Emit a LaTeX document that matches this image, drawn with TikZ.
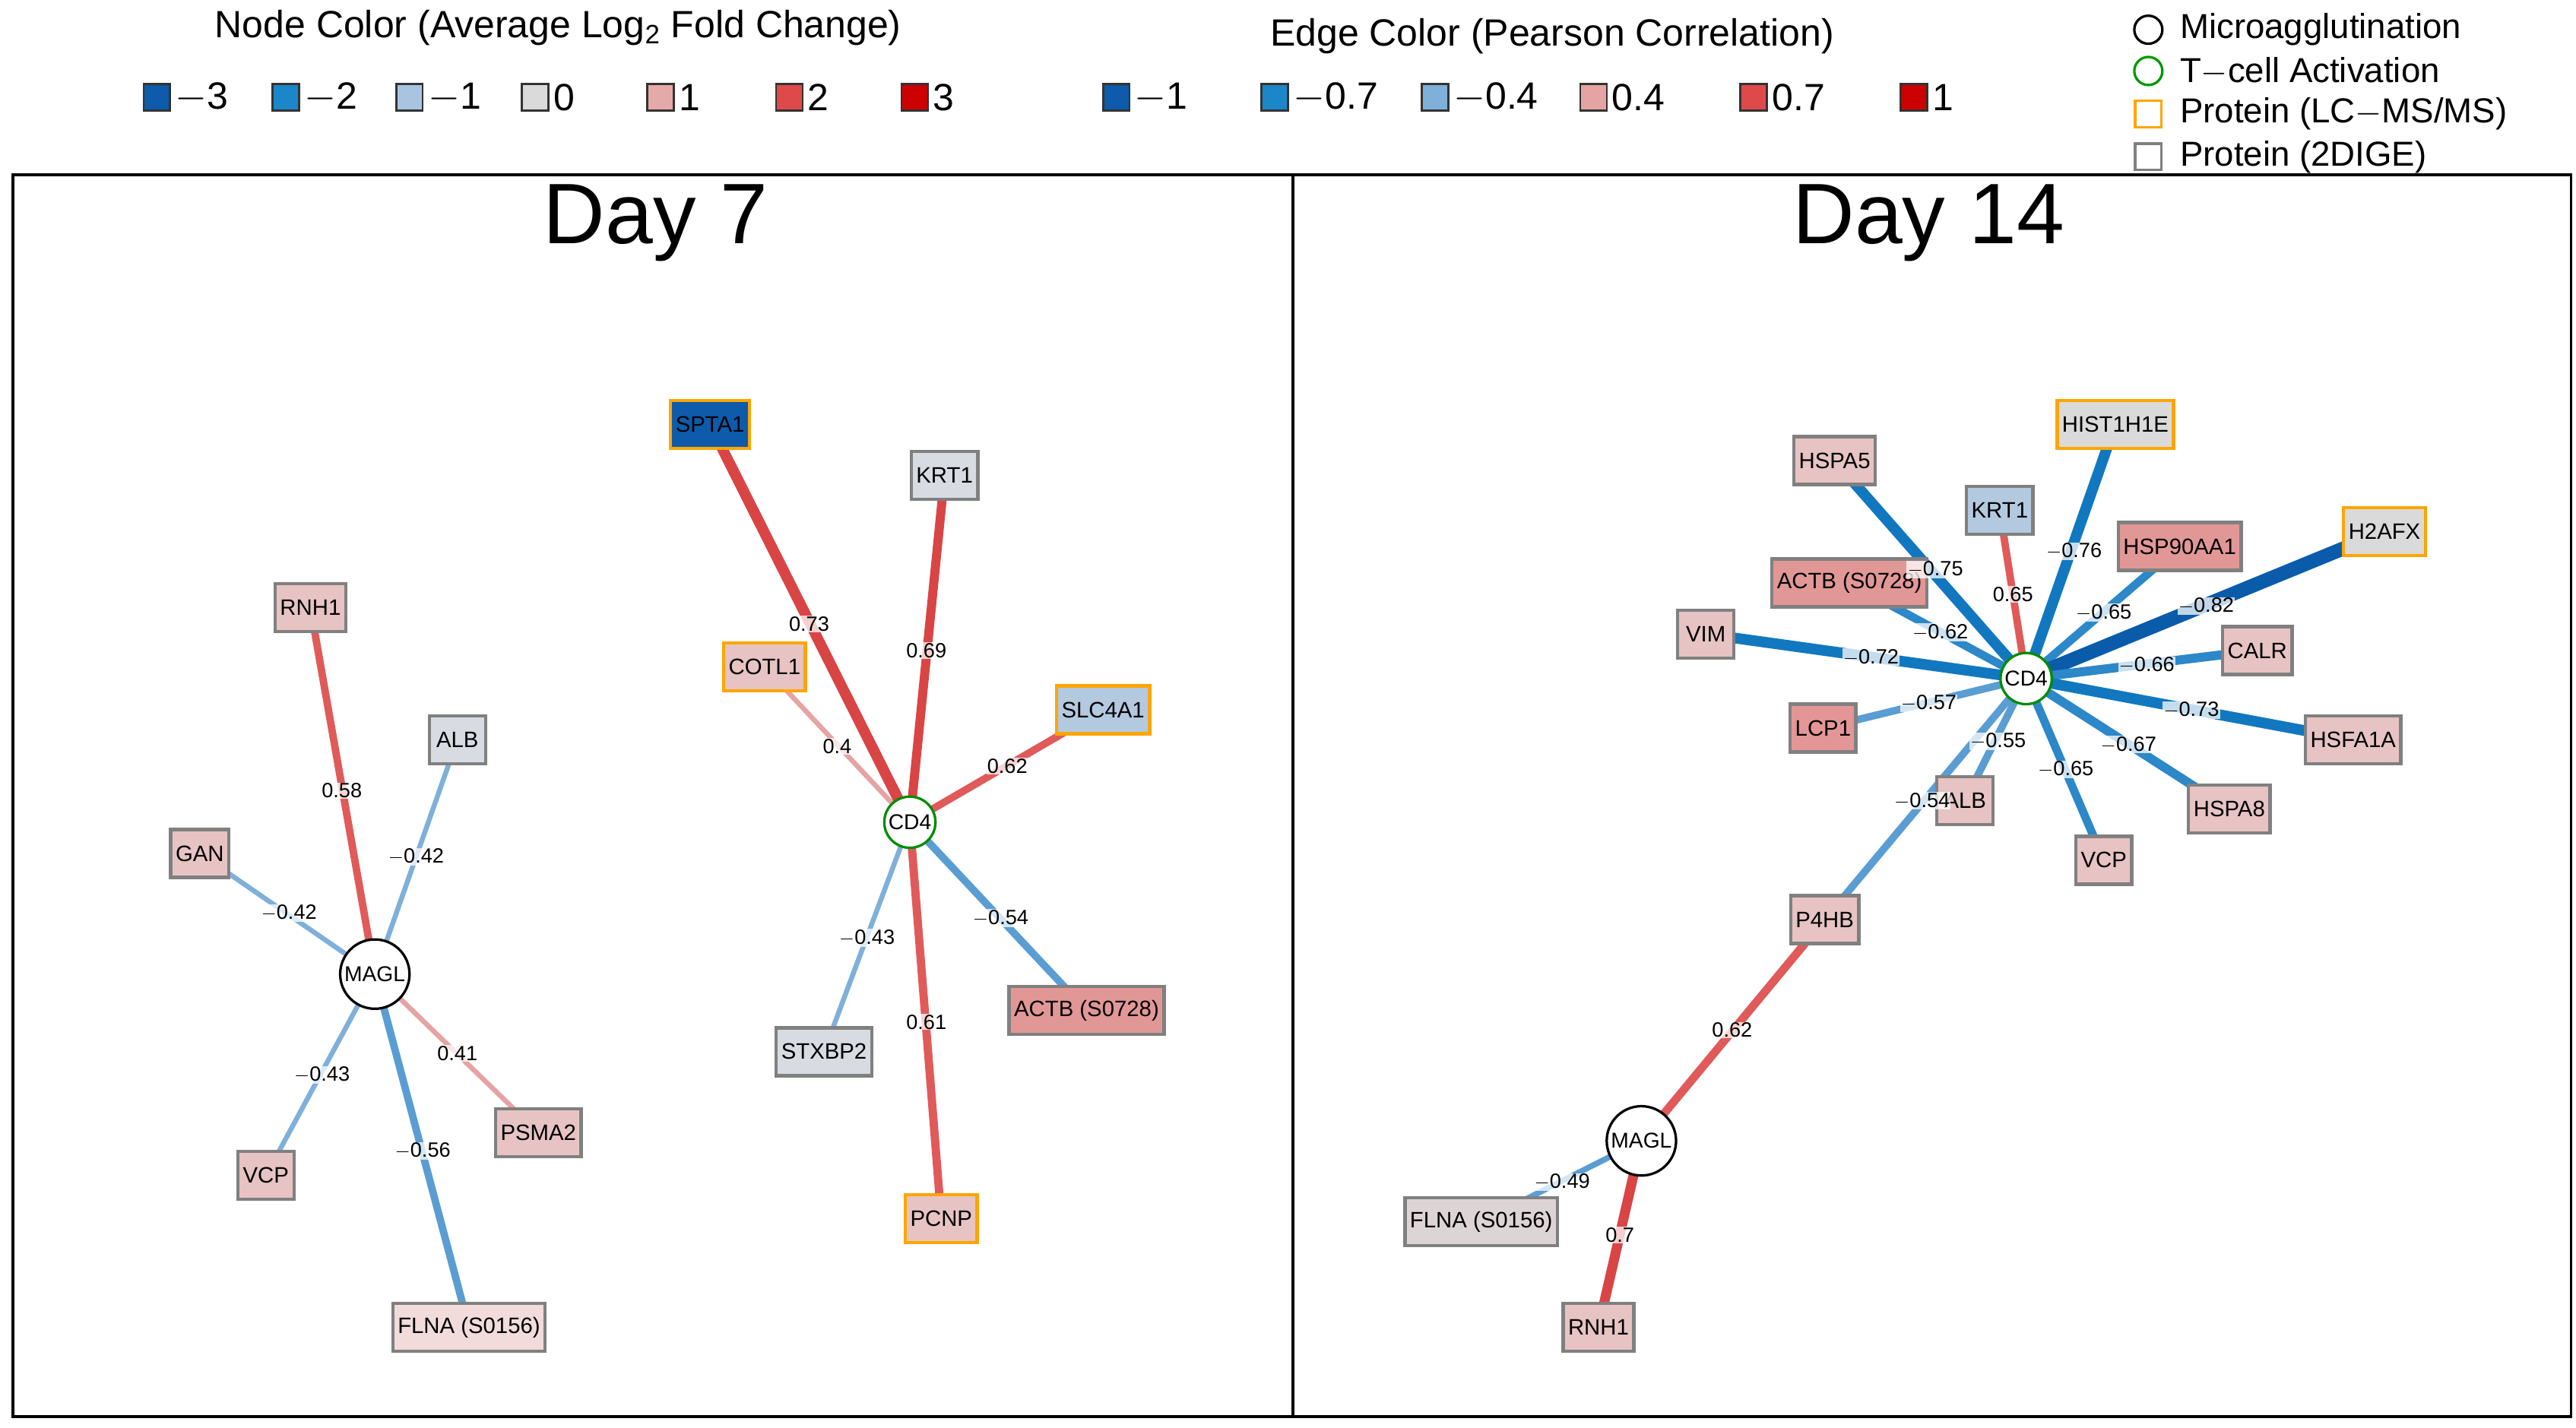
\documentclass[tikz,border=0pt]{standalone}
\usepackage{fontspec}
\setmainfont{Liberation Sans}
\begin{document}
\pgfdeclarelayer{bg}\pgfsetlayers{bg,main}
\definecolor{nb3}{HTML}{0D5BAA}\definecolor{nb2}{HTML}{1B86C8}\definecolor{nb1}{HTML}{A9C4E0}
\definecolor{n0}{HTML}{DADADA}\definecolor{np1}{HTML}{E6A9A9}\definecolor{np2}{HTML}{DE4A4A}\definecolor{np3}{HTML}{CC0000}
\definecolor{nlp}{HTML}{E7C3C3}\definecolor{nmp}{HTML}{E29797}\definecolor{nlb}{HTML}{B3C9E0}\definecolor{ngl}{HTML}{D8DCE2}
\definecolor{eb1}{HTML}{0A5CAB}\definecolor{eb7}{HTML}{1178C0}\definecolor{eb6}{HTML}{2C88C8}\definecolor{eb5}{HTML}{5A9DD2}\definecolor{eb4}{HTML}{7FB0DA}
\definecolor{er4}{HTML}{E6A3A3}\definecolor{er6}{HTML}{E05A5A}\definecolor{er7}{HTML}{D94545}\definecolor{er1}{HTML}{CC0000}
\definecolor{orng}{HTML}{FFA500}\definecolor{gbd}{HTML}{808080}
\begin{tikzpicture}[x=1pt,y=-1pt,
 pb/.style={draw=gbd,line width=2pt,font=\fontsize{13.5}{13.5}\selectfont,minimum height=29pt,minimum width=34pt,inner xsep=3pt},
 po/.style={pb,draw=orng},
 cmag/.style={circle,draw=black,line width=1.5pt,fill=white,minimum size=42pt,inner sep=0pt,font=\fontsize{13}{13}\selectfont},
 ctc/.style={circle,draw=green!55!black,line width=1.5pt,fill=white,minimum size=31pt,inner sep=0pt,font=\fontsize{13}{13}\selectfont},
 el/.style={fill=white,fill opacity=0.75,text opacity=1,inner sep=0.5pt,font=\fontsize{12.5}{12.5}\selectfont},
 ed/.style={line width=#1pt},
 lg/.style={font=\fontsize{23}{23}\selectfont},
 lr/.style={font=\fontsize{21}{21}\selectfont,anchor=west,inner sep=0pt},
 sq/.style={draw=black!80,line width=1.2pt,minimum size=16pt,inner sep=0pt},
 ttl/.style={font=\fontsize{52}{52}\selectfont}]
\useasboundingbox (0,0) rectangle (1560,864.5);
% legend
\node[lg] (lt1) at (338,17) {Node Color (Average Log\textsubscript{2} Fold Change)};
\node[lg] (lt2) at (940,22) {Edge Color (Pearson Correlation)};
\foreach \x/\c/\t [count=\i] in {95/nb3/$-$3,173/nb2/$-$2,248/nb1/$-$1,324/n0/0,400/np1/1,478/np2/2,554/np3/3}{
 \node[sq,fill=\c] (ns\i) at (\x,59) {};
 \node[lg,anchor=west,inner xsep=2pt] (nl\i) at (\x+9,59) {\t};}
\foreach \x/\c/\t [count=\i] in {676/nb3/$-$1,772/nb2/$-$0.7,869/eb4/$-$0.4,965/er4/0.4,1062/np2/0.7,1159/np3/1}{
 \node[sq,fill=\c] (es\i) at (\x,59) {};
 \node[lg,anchor=west,inner xsep=2pt] (el\i) at (\x+9,59) {\t};}
\node[circle,draw=black,line width=1.5pt,minimum size=17pt,inner sep=0pt] (ls1) at (1301,18) {};
\node[circle,draw=green!60!black,line width=1.5pt,minimum size=17pt,inner sep=0pt] (ls2) at (1301,43) {};
\node[draw=orng,line width=1.5pt,minimum size=16pt,inner sep=0pt] (ls3) at (1301,69) {};
\node[draw=gbd,line width=1.5pt,minimum size=16pt,inner sep=0pt] (ls4) at (1301,95) {};
\node[lr] (lx1) at (1320,18) {Microagglutination};
\node[lr] (lx2) at (1320,43) {T$-$cell Activation};
\node[lr] (lx3) at (1320,69) {Protein (LC$-$MS/MS)};
\node[lr] (lx4) at (1320,95) {Protein (2DIGE)};
% panels
\draw[line width=1.8pt] (8,106) rectangle (1557,858);
\draw[line width=1.8pt] (783,106) -- (783,858);
\node[ttl] (t1) at (397,135) {Day 7};
\node[ttl] (t2) at (1168,135) {Day 14};
% Day 7 nodes
\node[cmag] (magl) at (227,590) {MAGL};
\node[pb,fill=nlp] (rnh1) at (188,368) {RNH1};
\node[pb,fill=ngl] (alb) at (277,448) {ALB};
\node[pb,fill=nlp] (gan) at (121,517) {GAN};
\node[pb,fill=nlp] (psma2) at (326,686) {PSMA2};
\node[pb,fill=nlp] (vcp) at (161,712) {VCP};
\node[pb,fill=nlp!60!white] (flna) at (284,804) {FLNA (S0156)};
\node[ctc] (cd4) at (551,498) {CD4};
\node[po,fill=nb3] (spta1) at (430,257) {SPTA1};
\node[pb,fill=ngl] (krt1) at (572,288) {KRT1};
\node[po,fill=nlp] (cotl1) at (463,404) {COTL1};
\node[po,fill=nlb] (slc) at (668,430) {SLC4A1};
\node[pb,fill=nmp] (actb) at (658,612) {ACTB (S0728)};
\node[pb,fill=ngl] (stx) at (499,637) {STXBP2};
\node[po,fill=nlp] (pcnp) at (570,738) {PCNP};
\begin{pgfonlayer}{bg}
\draw[er6,ed=4.5] (magl.center) -- (rnh1.center);
\draw[eb4,ed=3] (magl.center) -- (alb.center);
\draw[eb4,ed=3] (magl.center) -- (gan.center);
\draw[er4,ed=3] (magl.center) -- (psma2.center);
\draw[eb4,ed=3] (magl.center) -- (vcp.center);
\draw[eb5,ed=4.5] (magl.center) -- (flna.center);
\draw[er7,ed=6.5] (cd4.center) -- (spta1.center);
\draw[er7,ed=5.5] (cd4.center) -- (krt1.center);
\draw[er4,ed=3] (cd4.center) -- (cotl1.center);
\draw[er6,ed=4.5] (cd4.center) -- (slc.center);
\draw[eb5,ed=4.5] (cd4.center) -- (actb.center);
\draw[eb4,ed=3] (cd4.center) -- (stx.center);
\draw[er6,ed=5] (cd4.center) -- (pcnp.center);
\end{pgfonlayer}
\node[el] (l1) at (207,479) {0.58};
\node[el] (l2) at (252,519) {$-$0.42};
\node[el] (l3) at (175,553) {$-$0.42};
\node[el] (l4) at (277,638) {0.41};
\node[el] (l5) at (195,651) {$-$0.43};
\node[el] (l6) at (256,697) {$-$0.56};
\node[el] (l7) at (490,378) {0.73};
\node[el] (l8) at (561,394) {0.69};
\node[el] (l9) at (507,452) {0.4};
\node[el] (l10) at (610,464) {0.62};
\node[el] (l11) at (606,556) {$-$0.54};
\node[el] (l12) at (525,568) {$-$0.43};
\node[el] (l13) at (561,619) {0.61};
% Day 14 nodes
\node[ctc] (dcd4) at (1227,411) {CD4};
\node[cmag] (dmagl) at (994,691) {MAGL};
\node[po,fill=n0] (hist) at (1281,257) {HIST1H1E};
\node[pb,fill=nlp] (hspa5) at (1111,279) {HSPA5};
\node[pb,fill=nlb] (dkrt1) at (1211,309) {KRT1};
\node[pb,fill=nmp] (hsp90) at (1320,331) {HSP90AA1};
\node[po,fill=n0] (h2afx) at (1444,322) {H2AFX};
\node[pb,fill=nmp] (dactb) at (1120,353) {ACTB (S0728)};
\node[pb,fill=nlp] (vim) at (1033,384) {VIM};
\node[pb,fill=nlp] (calr) at (1367,394) {CALR};
\node[pb,fill=np1!80!np2] (lcp1) at (1104,441) {LCP1};
\node[pb,fill=nlp] (hsfa1a) at (1425,448) {HSFA1A};
\node[pb,fill=nlp] (dalb) at (1190,485) {ALB};
\node[pb,fill=nlp] (hspa8) at (1350,490) {HSPA8};
\node[pb,fill=nlp] (dvcp) at (1274,521) {VCP};
\node[pb,fill=nlp] (p4hb) at (1105,557) {P4HB};
\node[pb,fill=n0!80!nlp] (dflna) at (897,740) {FLNA (S0156)};
\node[pb,fill=nlp] (drnh1) at (968,804) {RNH1};
\begin{pgfonlayer}{bg}
\draw[eb7,ed=6.5] (dcd4.center) -- (hist.center);
\draw[eb7,ed=6.5] (dcd4.center) -- (hspa5.center);
\draw[er6,ed=4.5] (dcd4.center) -- (dkrt1.center);
\draw[eb6,ed=5] (dcd4.center) -- (hsp90.center);
\draw[eb1,ed=8.5] (dcd4.center) -- (h2afx.center);
\draw[eb6,ed=5] (dcd4.center) -- (dactb.center);
\draw[eb7,ed=6.5] (dcd4.center) -- (vim.center);
\draw[eb6,ed=5.5] (dcd4.center) -- (calr.center);
\draw[eb5,ed=4.5] (dcd4.center) -- (lcp1.center);
\draw[eb7,ed=6.5] (dcd4.center) -- (hsfa1a.center);
\draw[eb5,ed=4.5] (dcd4.center) -- (dalb.center);
\draw[eb6,ed=5.5] (dcd4.center) -- (hspa8.center);
\draw[eb6,ed=5] (dcd4.center) -- (dvcp.center);
\draw[eb5,ed=4.5] (dcd4.center) -- (p4hb.center);
\draw[er6,ed=5] (dmagl.center) -- (p4hb.center);
\draw[eb5,ed=3.5] (dmagl.center) -- (dflna.center);
\draw[er7,ed=6] (dmagl.center) -- (drnh1.center);
\end{pgfonlayer}
\node[el] (m1) at (1256,334) {$-$0.76};
\node[el] (m2) at (1172,345) {$-$0.75};
\node[el] (m3) at (1219,360) {0.65};
\node[el] (m4) at (1274,371) {$-$0.65};
\node[el] (m5) at (1336,367) {$-$0.82};
\node[el] (m6) at (1175,383) {$-$0.62};
\node[el] (m7) at (1133,398) {$-$0.72};
\node[el] (m8) at (1300,403) {$-$0.66};
\node[el] (m9) at (1168,426) {$-$0.57};
\node[el] (m10) at (1327,430) {$-$0.73};
\node[el] (m11) at (1210,449) {$-$0.55};
\node[el] (m12) at (1289,451) {$-$0.67};
\node[el] (m13) at (1251,466) {$-$0.65};
\node[el] (m14) at (1164,485) {$-$0.54};
\node[el] (m15) at (1049,624) {0.62};
\node[el] (m16) at (946,716) {$-$0.49};
\node[el] (m17) at (981,748) {0.7};
\end{tikzpicture}
\end{document}
